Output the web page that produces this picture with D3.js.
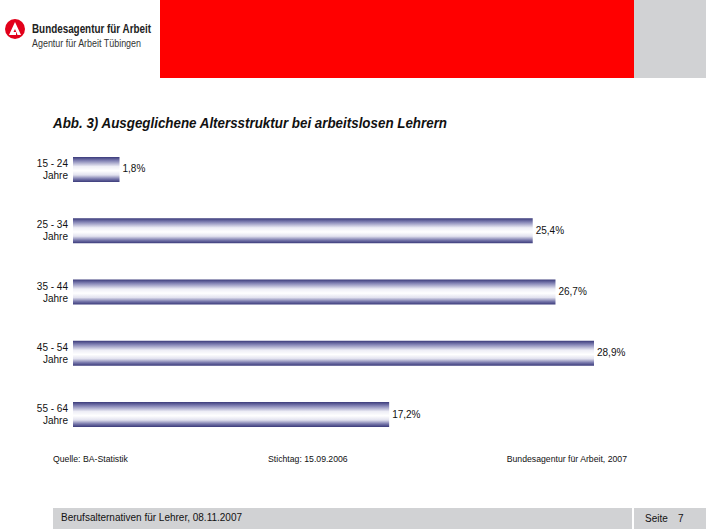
<!DOCTYPE html>
<html>
<head>
<meta charset="utf-8">
<script src="https://cdn.jsdelivr.net/npm/d3@7"></script>
<style>
  body { margin: 0; background: #fff; }
  svg { display: block; font-family: "Liberation Sans", Arial, sans-serif; }
</style>
</head>
<body>
<script>
// Daten: Altersgruppen und Anteile
var gruppen = ["15 - 24", "25 - 34", "35 - 44", "45 - 54", "55 - 64"];
var werte = [1.8, 25.4, 26.7, 28.9, 17.2];
var werteText = ["1,8%", "25,4%", "26,7%", "28,9%", "17,2%"];

var width = 706, height = 529;

var svg = d3.select("body").append("svg")
    .attr("width", width)
    .attr("height", height);

// Verlauf der Balken (dunkelblau - weiss - dunkelblau)
var grad = svg.append("defs").append("linearGradient")
    .attr("id", "balken")
    .attr("x1", 0).attr("y1", 0).attr("x2", 0).attr("y2", 1);
[[0, "#3a3a7a"], [0.15, "#8282b4"], [0.38, "#eeeef6"], [0.55, "#ffffff"],
 [0.72, "#e2e2ef"], [0.88, "#7676aa"], [1, "#3a3a7a"]].forEach(function(s){
    grad.append("stop").attr("offset", s[0]).attr("stop-color", s[1]);
});

// Kopfbereich
svg.append("rect").attr("x", 160).attr("y", 0).attr("width", 474).attr("height", 78).attr("fill", "#ff0000");
svg.append("rect").attr("x", 634).attr("y", 0).attr("width", 72).attr("height", 78).attr("fill", "#d1d2d4");

// Logo
var logo = svg.append("g").attr("transform", "translate(15,29)");
logo.append("circle").attr("r", 10).attr("fill", "#e2001a");
logo.append("path").attr("d", "M-6,6 L0,-7 L6,6 L2.5,6 L0,0 L-1.5,3 L1,3 L1,6 Z").attr("fill", "#fff");
svg.append("text").attr("x", 32).attr("y", 33).attr("font-size", 12).attr("font-weight", "bold")
    .attr("fill", "#222").attr("textLength", 119).attr("lengthAdjust", "spacingAndGlyphs")
    .text("Bundesagentur für Arbeit");
svg.append("text").attr("x", 32).attr("y", 47).attr("font-size", 10.5)
    .attr("fill", "#333").attr("textLength", 109).attr("lengthAdjust", "spacingAndGlyphs")
    .text("Agentur für Arbeit Tübingen");

// Titel
svg.append("text").attr("x", 53).attr("y", 128).attr("font-size", 15).attr("font-weight", "bold")
    .attr("font-style", "italic").attr("fill", "#111")
    .attr("textLength", 394).attr("lengthAdjust", "spacingAndGlyphs")
    .text("Abb. 3) Ausgeglichene Altersstruktur bei arbeitslosen Lehrern");

// Skalen
var x0 = 73;
var x = d3.scaleLinear().domain([0, 28.9]).range([x0 + 15, 594]);
var y = d3.scaleBand().domain(gruppen).range([157, 427]).paddingInner(0.592).paddingOuter(0);

var zeile = svg.selectAll(".zeile").data(gruppen).enter().append("g").attr("class", "zeile");

zeile.append("rect")
    .attr("x", x0)
    .attr("y", function(d){ return y(d); })
    .attr("width", function(d, i){ return x(werte[i]) - x0; })
    .attr("height", y.bandwidth())
    .attr("fill", "url(#balken)");

zeile.append("text")
    .attr("x", 68).attr("y", function(d){ return y(d) + 10; })
    .attr("text-anchor", "end").attr("font-size", 10).attr("fill", "#111")
    .text(function(d){ return d; });
zeile.append("text")
    .attr("x", 68).attr("y", function(d){ return y(d) + 22; })
    .attr("text-anchor", "end").attr("font-size", 10).attr("fill", "#111")
    .text("Jahre");

zeile.append("text")
    .attr("x", function(d, i){ return x(werte[i]) + 3; })
    .attr("y", function(d){ return y(d) + y.bandwidth() / 2 + 3; })
    .attr("font-size", 10).attr("fill", "#111")
    .text(function(d, i){ return werteText[i]; });

// Quellenzeile
svg.append("text").attr("x", 53).attr("y", 462).attr("font-size", 8.7).attr("fill", "#111").text("Quelle: BA-Statistik");
svg.append("text").attr("x", 268).attr("y", 462).attr("font-size", 8.7).attr("fill", "#111").text("Stichtag: 15.09.2006");
svg.append("text").attr("x", 627).attr("y", 462).attr("font-size", 8.7).attr("text-anchor", "end").attr("fill", "#111").text("Bundesagentur für Arbeit, 2007");

// Fusszeile
svg.append("rect").attr("x", 53).attr("y", 508).attr("width", 579).attr("height", 21).attr("fill", "#d1d2d4");
svg.append("rect").attr("x", 634).attr("y", 508).attr("width", 72).attr("height", 21).attr("fill", "#d1d2d4");
svg.append("text").attr("x", 61).attr("y", 521).attr("font-size", 10).attr("fill", "#111").text("Berufsalternativen für Lehrer, 08.11.2007");
svg.append("text").attr("x", 645).attr("y", 522).attr("font-size", 10).attr("fill", "#111").text("Seite");
svg.append("text").attr("x", 678).attr("y", 522).attr("font-size", 10).attr("fill", "#111").text("7");
</script>
</body>
</html>
